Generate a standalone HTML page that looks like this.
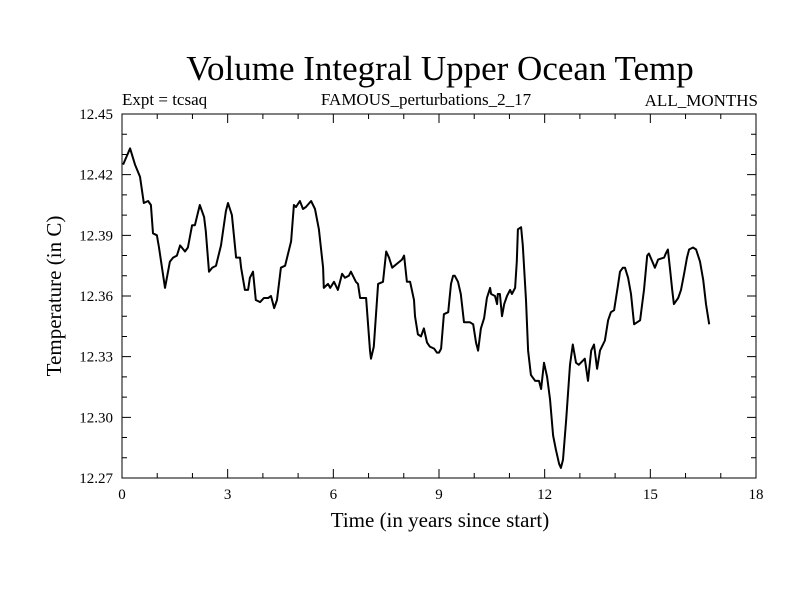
<!DOCTYPE html>
<html><head><meta charset="utf-8"><style>
body{margin:0;background:#fff}
svg{display:block;font-family:"Liberation Serif",serif}
</style></head><body>
<svg id="chart" width="800" height="600">
<rect width="800" height="600" fill="#fff"/>
<text x="440" y="80" font-size="35" text-anchor="middle">Volume Integral Upper Ocean Temp</text>
<text x="122" y="105" font-size="17">Expt = tcsaq</text>
<text x="426" y="105" font-size="17" text-anchor="middle">FAMOUS_perturbations_2_17</text>
<text x="758" y="106" font-size="17" text-anchor="end">ALL_MONTHS</text>
<text x="440" y="527" font-size="21" text-anchor="middle">Time (in years since start)</text>
<text transform="translate(61,296) rotate(-90)" font-size="21" text-anchor="middle">Temperature (in C)</text>
<g id="axes"></g>
<g id="plot"></g>
</svg>
<script>
const years=[0.03,0.23,0.37,0.51,0.62,0.74,0.82,0.88,0.99,1.05,1.22,1.36,1.45,1.56,1.65,1.79,1.87,1.99,2.07,2.21,2.33,2.38,2.47,2.56,2.67,2.81,2.95,3.01,3.12,3.24,3.35,3.38,3.49,3.58,3.63,3.72,3.80,3.92,4.03,4.15,4.23,4.32,4.40,4.51,4.63,4.80,4.88,4.94,5.05,5.14,5.22,5.37,5.48,5.59,5.71,5.73,5.85,5.91,6.02,6.13,6.25,6.33,6.44,6.50,6.64,6.70,6.76,6.93,7.04,7.07,7.15,7.27,7.41,7.50,7.58,7.67,7.81,7.95,8.01,8.09,8.18,8.29,8.32,8.40,8.49,8.57,8.66,8.74,8.86,8.94,9.00,9.06,9.14,9.26,9.34,9.40,9.45,9.54,9.62,9.71,9.88,9.97,10.05,10.11,10.19,10.28,10.36,10.45,10.48,10.59,10.65,10.67,10.73,10.79,10.85,10.93,11.02,11.07,11.16,11.21,11.24,11.33,11.38,11.47,11.53,11.61,11.73,11.84,11.90,11.98,12.07,12.15,12.24,12.32,12.41,12.46,12.52,12.61,12.72,12.80,12.89,12.97,13.14,13.23,13.32,13.40,13.49,13.57,13.71,13.80,13.88,13.97,14.08,14.14,14.22,14.28,14.37,14.45,14.54,14.71,14.82,14.91,14.96,15.08,15.13,15.22,15.39,15.44,15.50,15.56,15.62,15.67,15.79,15.87,15.96,16.04,16.10,16.21,16.30,16.41,16.50,16.58,16.67];
const temps=[12.425,12.433,12.425,12.419,12.406,12.407,12.405,12.391,12.390,12.384,12.364,12.377,12.379,12.380,12.385,12.382,12.384,12.395,12.395,12.405,12.399,12.392,12.372,12.374,12.375,12.385,12.402,12.406,12.400,12.379,12.379,12.374,12.363,12.363,12.369,12.372,12.358,12.357,12.359,12.359,12.360,12.354,12.358,12.374,12.375,12.387,12.405,12.404,12.407,12.403,12.404,12.407,12.403,12.393,12.374,12.364,12.366,12.364,12.367,12.363,12.371,12.369,12.370,12.372,12.367,12.366,12.359,12.359,12.333,12.329,12.335,12.366,12.367,12.382,12.379,12.374,12.376,12.378,12.380,12.367,12.367,12.358,12.350,12.341,12.340,12.344,12.337,12.335,12.334,12.332,12.332,12.334,12.351,12.352,12.366,12.370,12.370,12.367,12.361,12.347,12.347,12.346,12.337,12.333,12.344,12.349,12.359,12.364,12.361,12.360,12.356,12.361,12.361,12.350,12.356,12.360,12.363,12.361,12.364,12.377,12.393,12.394,12.385,12.358,12.333,12.321,12.318,12.318,12.314,12.327,12.320,12.309,12.291,12.284,12.277,12.275,12.279,12.299,12.326,12.336,12.327,12.326,12.329,12.318,12.333,12.336,12.324,12.333,12.338,12.348,12.352,12.353,12.365,12.372,12.374,12.374,12.369,12.361,12.346,12.348,12.363,12.380,12.381,12.376,12.374,12.378,12.379,12.381,12.383,12.373,12.363,12.356,12.359,12.363,12.371,12.379,12.383,12.384,12.383,12.377,12.368,12.356,12.346];
const xTicks=[0,3,6,9,12,15,18];
const yTicks=["12.27","12.30","12.33","12.36","12.39","12.42","12.45"];
const X0=122,X1=756,Y0=478,Y1=114,xMin=0,xMax=18,yMin=12.27,yMax=12.45;
const sx=v=>X0+(v-xMin)/(xMax-xMin)*(X1-X0);
const sy=v=>Y0-(v-yMin)/(yMax-yMin)*(Y0-Y1);
const NS="http://www.w3.org/2000/svg";
const axes=document.getElementById('axes'),plot=document.getElementById('plot');
function mk(tag,attrs,parent){const e=document.createElementNS(NS,tag);for(const k in attrs)e.setAttribute(k,attrs[k]);parent.appendChild(e);return e;}
const frame=mk('rect',{x:X0,y:Y1,width:X1-X0,height:Y0-Y1,fill:'none',stroke:'#000','stroke-width':1},axes);


let d='';
for(let v=0;v<=18;v+=1){const x=sx(v),L=(v%3===0)?9:5;d+=`M${x},${Y0}V${Y0-L}M${x},${Y1}V${Y1+L}`;}
for(let i=0;i<=18;i++){const y=sy(12.27+i*0.01),L=(i%3===0)?9:5;d+=`M${X0},${y}H${X0+L}M${X1},${y}H${X1-L}`;}
const tk=mk('path',{d:d,stroke:'#000','stroke-width':1,fill:'none'},axes);


xTicks.forEach(v=>{const t=mk('text',{x:sx(v),y:499,'font-size':15,'text-anchor':'middle'},axes);t.textContent=v;

});
yTicks.forEach(s=>{const t=mk('text',{x:113,y:sy(parseFloat(s))+5,'font-size':15,'text-anchor':'end'},axes);t.textContent=s;

});
const pts=years.map((v,i)=>sx(v).toFixed(1)+','+sy(temps[i]).toFixed(1)).join(' ');
const line=mk('polyline',{points:pts,fill:'none',stroke:'#000','stroke-width':2,'stroke-linejoin':'round'},plot);


</script>
</body></html>
